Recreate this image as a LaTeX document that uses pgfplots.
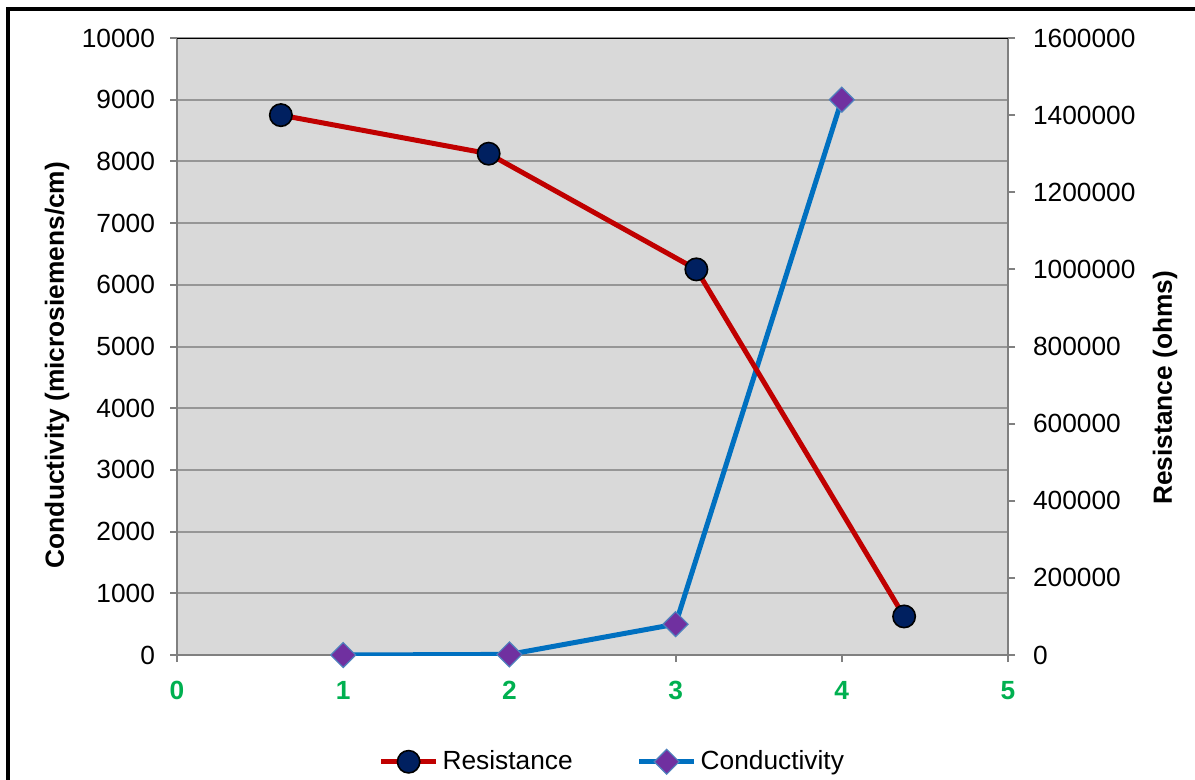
\documentclass[border=0pt]{standalone}
\usepackage{fontspec}
\setmainfont{Liberation Sans}
\usepackage{pgfplots}
\pgfplotsset{compat=1.18}
\definecolor{plotbg}{RGB}{217,217,217}
\definecolor{gridgray}{RGB}{150,150,150}
\definecolor{axgray}{RGB}{128,128,128}
\definecolor{resred}{RGB}{192,0,0}
\definecolor{resnavy}{RGB}{0,32,96}
\definecolor{condblue}{RGB}{0,112,192}
\definecolor{condpurple}{RGB}{112,48,160}
\definecolor{condedge}{RGB}{79,129,189}
\definecolor{ticklabgreen}{RGB}{0,176,80}

\pgfplotsset{
  base/.style={
    at={(88.5bp,-327.5bp)}, anchor=south west,
    scale only axis, width=415.5bp, height=308.5bp,
    xmin=0, xmax=5,
    font=\fontsize{13.2}{15}\selectfont,
    /pgf/number format/assume math mode=true,
    tick align=outside, major tick length=3.5bp,
    tick style={axgray, line width=1bp},
    axis line style={axgray, line width=1bp},
    scaled y ticks=false,
    yticklabel style={/pgf/number format/fixed, /pgf/number format/1000 sep={}},
  },
  resstyle/.style={resred, line width=2.5bp, mark=*,
    mark options={solid, fill=resnavy, draw=black, line width=0.8bp}, mark size=5.6bp},
  condstyle/.style={condblue, line width=2.5bp, mark=square*,
    mark options={solid, fill=condpurple, draw=condedge, line width=0.6bp, rotate=45}, mark size=4.4bp},
}

\begin{document}
\begin{tikzpicture}
\useasboundingbox (0bp,0bp) rectangle (597.5bp,-390bp);
\draw[black, line width=2bp] (4bp,-400bp) -- (4bp,-4.5bp) -- (610bp,-4.5bp);

\begin{axis}[base,
  axis x line*=bottom, axis y line*=left,
  axis background/.style={fill=plotbg},
  ymin=0, ymax=10000,
  xtick={0,1,2,3,4,5},
  ytick={0,1000,...,10000},
  ymajorgrids, grid style={gridgray, line width=1bp},
  xticklabel style={text=ticklabgreen, font=\fontsize{13.2}{15}\selectfont\bfseries, yshift=-6bp},
  yticklabel style={xshift=-4bp},
  ylabel={\bfseries Conductivity (microsiemens/cm)},
  ylabel style={at={(axis description cs:-0.1444,0.470)}, anchor=center},
  legend columns=2,
  legend style={at={(axis description cs:0.525,-0.173)}, anchor=center,
    draw=none, fill=none, font=\fontsize{13.2}{15}\selectfont,
    /tikz/every even column/.append style={column sep=30bp}},
  legend cell align=left,
  legend image code/.code={\draw[mark repeat=2, mark phase=2, #1]
    plot coordinates {(0bp,0bp) (13.75bp,0bp) (27.5bp,0bp)};},
]
\addlegendimage{resstyle}
\addlegendentry{Resistance}
\addplot[condstyle] coordinates {(1,0) (2,10) (3,500) (4,9000)};
\addlegendentry{Conductivity}
\end{axis}

\begin{axis}[base,
  axis x line=none, axis y line*=right,
  ymin=0, ymax=1600000,
  ytick={0,200000,...,1600000},
  yticklabel style={xshift=5.5bp},
  ylabel={\bfseries Resistance (ohms)},
  ylabel style={at={(axis description cs:1.189,0.433)}, anchor=center},
]
\addplot[resstyle] coordinates {(0.625,1400000) (1.875,1300000) (3.125,1000000) (4.375,100000)};
\draw[black, line width=1bp] (rel axis cs:0,1) -- (rel axis cs:1,1);
\end{axis}
\end{tikzpicture}
\end{document}
